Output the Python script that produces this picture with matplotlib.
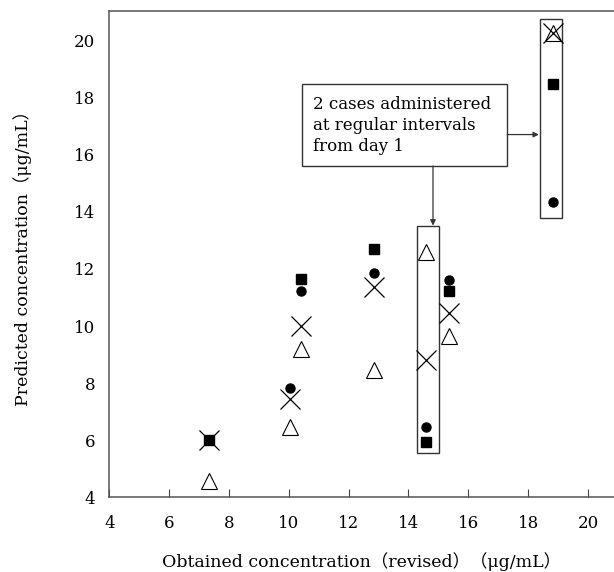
import matplotlib
matplotlib.use("Agg")
import matplotlib.pyplot as plt
from matplotlib.patches import Rectangle

plt.rcParams['font.family'] = ['DejaVu Serif', 'Noto Sans CJK JP']

# series values (obtained x, predicted y)
sq_x = [7.34, 10.40, 12.85, 14.59, 15.37, 18.82]
sq_y = [6.00, 11.66, 12.71, 5.94, 11.24, 18.48]
ci_x = [10.03, 10.40, 12.85, 14.59, 15.37, 18.82]
ci_y = [7.82, 11.23, 11.85, 6.45, 11.60, 14.34]
tr_x = [7.34, 10.03, 10.40, 12.85, 14.59, 15.37, 18.82]
tr_y = [4.56, 6.47, 9.19, 8.45, 12.59, 9.65, 20.26]
xx_x = [7.34, 10.03, 10.40, 12.85, 14.59, 15.37, 18.82]
xx_y = [6.00, 7.45, 10.00, 11.37, 8.80, 10.45, 20.26]

ticks = [4, 6, 8, 10, 12, 14, 16, 18, 20]
note = "2 cases administered\nat regular intervals\nfrom day 1"

fig = plt.figure(figsize=(6.14, 5.72), dpi=100)
ax = fig.add_axes([0.178, 0.1306, 0.822, 0.8502])

ax.plot(tr_x, tr_y, '^', ms=11, mfc='white', mec='black', mew=0.8, ls='none', zorder=3)
ax.plot(xx_x, xx_y, 'x', ms=14, mec='black', mew=0.9, ls='none', zorder=4)
ax.plot(sq_x, sq_y, 's', ms=7, color='black', ls='none', zorder=5)
ax.plot(ci_x, ci_y, 'o', ms=6.5, color='black', ls='none', zorder=5)

# boxes around the 2 cases
ax.add_patch(Rectangle((14.28, 5.54), 0.74, 7.95, fill=False, lw=1, ec='#333333', zorder=2))
ax.add_patch(Rectangle((18.40, 13.78), 0.72, 6.97, fill=False, lw=1, ec='#333333', zorder=2))
ax.add_patch(Rectangle((10.45, 15.61), 6.85, 2.86, fill=False, lw=1, ec='#333333', zorder=2))
ax.text(10.82, 17.04, note, fontsize=12, va='center', ha='left', linespacing=1.3)

ax.annotate('', xy=(18.36, 16.71), xytext=(17.30, 16.71),
            arrowprops=dict(arrowstyle='-|>', color='#333333', lw=0.9, mutation_scale=8, shrinkA=0, shrinkB=0))
ax.annotate('', xy=(14.82, 13.52), xytext=(14.82, 15.61),
            arrowprops=dict(arrowstyle='-|>', color='#333333', lw=0.9, mutation_scale=8, shrinkA=0, shrinkB=0))

ax.set_xlim(4, 20.87)
ax.set_ylim(4, 21.04)
ax.set_xticks(ticks)
ax.set_yticks(ticks)
ax.tick_params(axis='x', direction='in', length=6, pad=13, labelsize=12, color='#444444')
ax.tick_params(axis='y', length=0, pad=10, labelsize=12)

ax.spines['right'].set_visible(False)
for s in ['top', 'left', 'bottom']:
    ax.spines[s].set_color('#555555')
    ax.spines[s].set_linewidth(1.1)

ax.set_xlabel('Obtained concentration（revised）（μg/mL）', fontsize=12.5, labelpad=14)
ax.set_ylabel('Predicted concentration（μg/mL）', fontsize=12.5, labelpad=30)

fig.savefig('out.png', dpi=100)
